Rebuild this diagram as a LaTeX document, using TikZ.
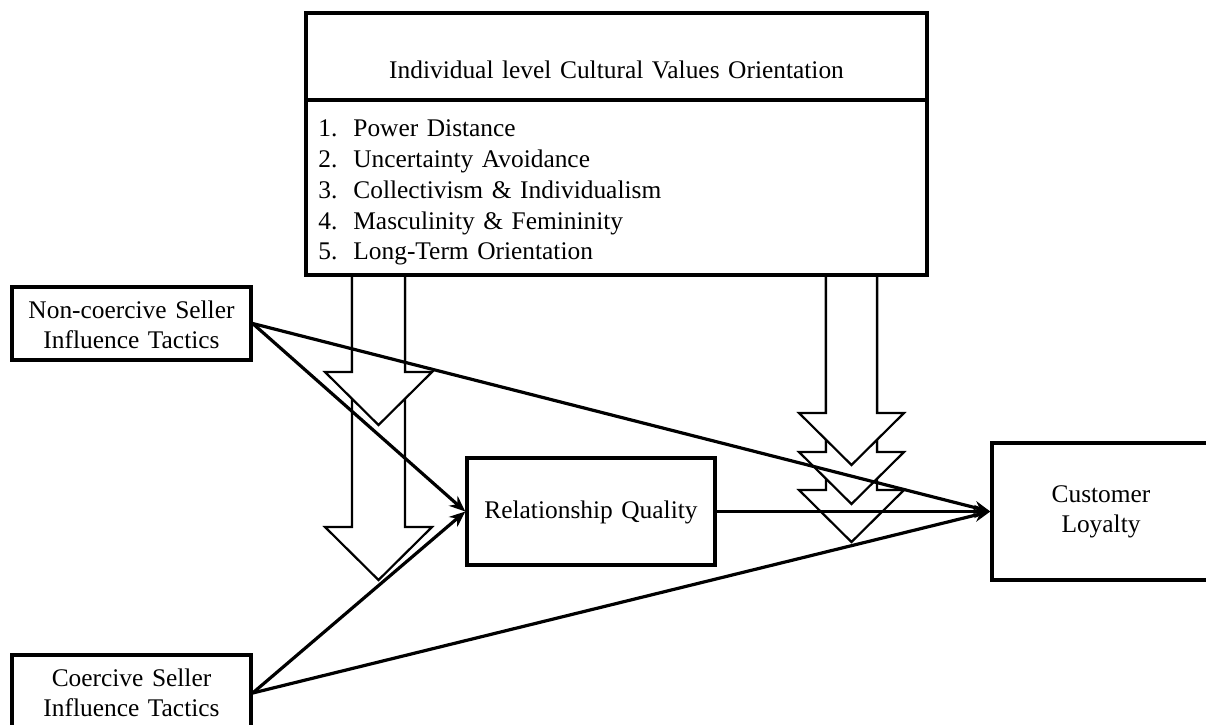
\documentclass[tikz,border=0pt]{standalone}
\usepackage{fontspec}
\setmainfont{Liberation Serif}[WordSpace={1.35,1,1}]
\usetikzlibrary{arrows.meta}
\begin{document}
\begin{tikzpicture}[x=0.5pt,y=-0.5pt,
  box/.style={draw,line width=1.7pt,fill=white,inner sep=0pt},
  lbl/.style={font=\fontsize{12.7}{15}\selectfont,align=center,inner sep=0pt},
  item/.style={font=\fontsize{12.7}{15}\selectfont,anchor=west,inner sep=0pt,text height=9pt,text depth=3pt},
  conn/.style={line width=1.6pt,-{Stealth[length=8pt,width=6.5pt]}},
  blockarrow/.style={draw,line width=1.1pt,fill=white,line join=miter}]
\useasboundingbox (0,0) rectangle (1206,724);
% block arrows (drawn first, lower ones behind upper ones)
\path[blockarrow] (352,275) -- (352,527) -- (325,527) -- (378.5,580) -- (432,527) -- (405,527) -- (405,275);
\path[blockarrow] (352,275) -- (352,372) -- (325,372) -- (378.5,425) -- (432,372) -- (405,372) -- (405,275);
\path[blockarrow] (826,275) -- (826,490) -- (799,490) -- (851.5,542) -- (904,490) -- (877,490) -- (877,275);
\path[blockarrow] (826,275) -- (826,452) -- (799,452) -- (851.5,504) -- (904,452) -- (877,452) -- (877,275);
\path[blockarrow] (826,275) -- (826,413) -- (799,413) -- (851.5,465) -- (904,413) -- (877,413) -- (877,275);
% top box
\node[box,minimum width=310.5pt,minimum height=131pt] (cv) at (616.5,144) {};
\draw[line width=1.7pt] (cv.west |- 0,100) -- (cv.east |- 0,100);
\node[lbl] (title) at (616.5,70) {Individual level Cultural Values Orientation};
\node[item] (n1) at (318,130) {1.};
\node[item] (t1) at (353,130) {Power Distance};
\node[item] (n2) at (318,161.5) {2.};
\node[item] (t2) at (353,161.5) {Uncertainty Avoidance};
\node[item] (n3) at (318,192.5) {3.};
\node[item] (t3) at (353,192.5) {Collectivism \& Individualism};
\node[item] (n4) at (318,223) {4.};
\node[item] (t4) at (353,223) {Masculinity \& Femininity};
\node[item] (n5) at (318,253.5) {5.};
\node[item] (t5) at (353,253.5) {Long-Term Orientation};
% other boxes
\node[box,minimum width=119.5pt,minimum height=36.5pt] (nc) at (131.5,323.5) {};
\node[lbl] (nct) at (131.5,325) {Non-coercive Seller\\Influence Tactics};
\node[box,minimum width=119.5pt,minimum height=38pt] (co) at (131.5,693) {};
\node[lbl] (cot) at (131.5,693) {Coercive Seller\\Influence Tactics};
\node[box,minimum width=124pt,minimum height=53.5pt] (rq) at (591,511.5) {};
\node[lbl] (rqt) at (591,512) {Relationship Quality};
\node[box,minimum width=110pt,minimum height=68.5pt] (cl) at (1102,511.5) {};
\node[lbl] (clt) at (1101,512) {Customer\\Loyalty};
% connectors
\draw[conn] (nc.east) -- (rq.west);
\draw[conn] (nc.east) -- (cl.west);
\draw[conn] (co.east) -- (rq.west);
\draw[conn] (co.east) -- (cl.west);
\draw[conn] (rq.east) -- (cl.west);
\end{tikzpicture}
\end{document}
